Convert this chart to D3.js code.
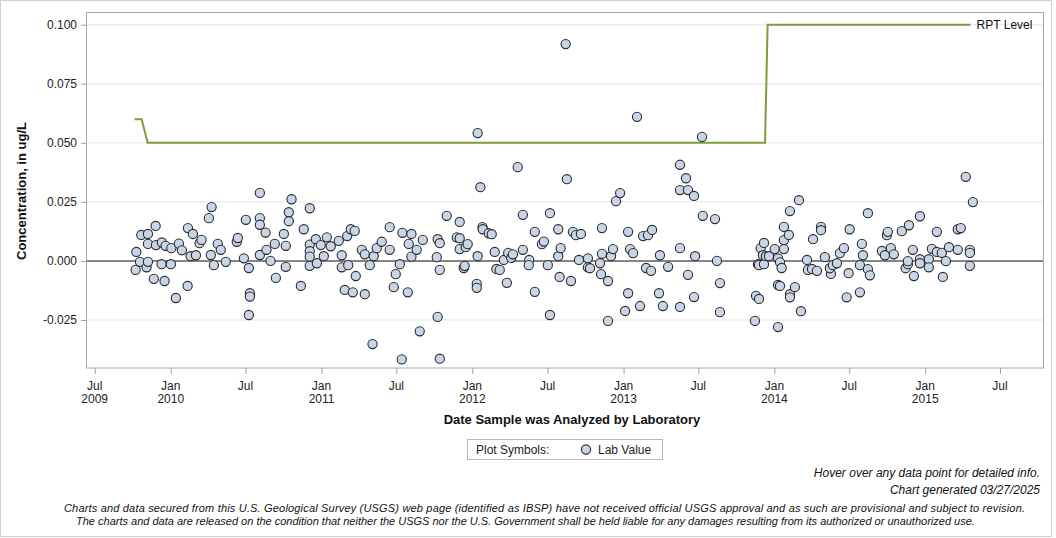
<!DOCTYPE html>
<html><head><meta charset="utf-8">
<script src="https://cdn.jsdelivr.net/npm/d3@7"></script>
<style>body{margin:0;background:#fff;} text{font-family:"Liberation Sans",Arial,sans-serif;}</style>
</head><body><svg id="c" width="1056" height="538"></svg>
<script>
// Sample dates as decimal years, and lab values (ug/L)
const sampleYears=[
2009.772,2009.767,2009.796,2009.805,2009.849,2009.849,2009.840,2009.849,2009.900,2009.902,
2009.888,2009.941,2009.939,2009.966,2009.959,2010.004,2010.001,2010.034,2010.054,2010.074,
2010.114,2010.147,2010.112,2010.132,2010.167,2010.191,2010.204,2010.253,2010.271,2010.266,
2010.286,2010.312,2010.332,2010.365,2010.438,2010.445,2010.498,2010.485,2010.518,2010.525,
2010.525,2010.518,2010.591,2010.591,2010.591,2010.629,2010.591,2010.635,2010.662,
2010.690,2010.697,2010.750,2010.763,2010.763,2010.801,2010.783,2010.783,2010.863,2010.882,
2010.922,2010.922,2010.922,2010.922,2010.922,2010.962,2010.969,2010.995,2011.015,2011.035,
2011.061,2011.114,2011.134,2011.134,2011.154,2011.170,2011.177,2011.194,2011.220,2011.207,
2011.227,2011.267,2011.287,2011.287,2011.320,2011.346,2011.366,2011.399,2011.338,2011.452,
2011.452,2011.479,2011.492,2011.519,2011.536,2011.572,2011.532,2011.578,2011.596,2011.596,
2011.631,
2011.671,2011.651,2011.784,2011.770,2011.770,2011.784,2011.764,2011.784,2011.830,2011.916,
2011.896,2011.916,2011.916,2011.956,2011.969,2011.943,2011.949,2012.029,2012.029,2012.035,
2012.035,2012.053,2012.067,2012.069,2012.108,2012.128,2012.148,2012.159,2012.181,2012.208,
2012.228,2012.237,2012.257,2012.268,2012.300,2012.334,2012.334,2012.376,2012.373,2012.413,
2012.413,2012.460,2012.473,2012.499,2012.513,2012.513,2012.568,2012.568,2012.577,2012.584,
2012.625,2012.617,2012.652,2012.665,2012.685,2012.718,2012.705,2012.764,2012.764,2012.778,
2012.857,2012.857,2012.844,2012.851,2012.897,2012.897,2012.917,2012.930,2012.950,2012.977,
2013.030,2013.030,2013.010,2013.043,2013.063,2013.089,2013.109,2013.129,2013.162,2013.189,
2013.149,2013.182,2013.235,2013.261,2013.241,2013.295,2013.374,2013.414,2013.374,2013.427,
2013.467,2013.374,2013.374,2013.427,2013.474,2013.467,2013.525,2013.520,
2013.606,2013.619,2013.639,2013.639,2013.871,2013.878,2013.898,2013.891,2013.898,2013.909,
2013.931,2013.924,2013.931,2013.944,2013.964,2014.002,2014.024,2014.024,2014.037,2014.024,
2014.037,2014.048,2014.063,2014.063,2014.063,2014.096,2014.103,2014.103,2014.103,2014.136,
2014.163,2014.176,2014.216,2014.222,2014.256,2014.249,2014.282,2014.309,2014.309,2014.335,
2014.375,2014.368,2014.388,2014.415,2014.434,2014.461,2014.499,2014.492,2014.479,
2014.567,2014.580,2014.587,2014.567,2014.620,2014.620,2014.633,2014.713,2014.733,2014.746,
2014.752,2014.772,2014.792,2014.845,2014.892,2014.870,2014.885,2014.885,2014.918,2014.925,
2014.965,2014.965,2014.965,2015.024,2015.024,2015.044,2015.077,2015.077,2015.110,2015.117,
2015.137,2015.157,2015.216,2015.236,2015.216,2015.269,2015.296,2015.296,2015.296,2015.316
];
const sampleValues=[
0.0038,-0.0038,-0.0004,0.0110,0.0114,0.0072,-0.0027,-0.0004,0.0148,0.0067,
-0.0076,0.0078,-0.0014,0.0064,-0.0085,0.0054,-0.0014,-0.0157,0.0073,0.0045,
0.0139,0.0114,-0.0106,0.0020,0.0024,0.0075,0.0089,0.0181,0.0228,0.0025,
-0.0018,0.0072,0.0047,-0.0004,0.0081,0.0097,0.0174,0.0011,-0.0030,-0.0137,
-0.0151,-0.0229,0.0288,0.0181,0.0153,0.0120,0.0025,0.0047,0.0000,
0.0072,-0.0072,0.0114,0.0064,-0.0025,0.0261,0.0206,0.0168,-0.0106,0.0134,
0.0223,0.0069,0.0041,0.0018,-0.0021,0.0092,-0.0010,0.0067,0.0020,0.0100,
0.0062,0.0085,0.0024,-0.0027,-0.0123,0.0105,-0.0018,0.0134,0.0127,-0.0133,
-0.0064,0.0047,0.0028,-0.0141,-0.0018,0.0020,0.0054,0.0081,-0.0352,0.0143,
0.0047,-0.0111,-0.0056,-0.0014,0.0119,-0.0133,-0.0417,0.0072,0.0114,0.0018,
0.0047,
0.0089,-0.0298,-0.0414,-0.0237,0.0092,0.0075,0.0016,-0.0038,0.0191,0.0165,
0.0100,0.0096,0.0050,0.0058,0.0071,-0.0030,-0.0021,-0.0097,-0.0114,0.0020,
0.0541,0.0312,0.0143,0.0134,0.0117,0.0113,0.0038,-0.0034,-0.0038,0.0004,
-0.0093,0.0034,0.0013,0.0028,0.0397,0.0195,0.0047,0.0004,-0.0018,0.0123,
-0.0131,0.0071,0.0082,-0.0018,0.0202,-0.0229,0.0134,0.0020,-0.0068,0.0054,
0.0346,0.0918,-0.0085,0.0123,0.0109,0.0114,0.0004,0.0011,-0.0027,-0.0031,
0.0139,0.0030,-0.0010,-0.0056,-0.0085,-0.0254,0.0020,0.0050,0.0253,0.0287,
0.0123,-0.0137,-0.0212,0.0050,0.0033,0.0610,-0.0191,0.0105,0.0109,0.0131,
-0.0030,-0.0042,-0.0137,-0.0191,0.0024,-0.0025,0.0407,0.0350,0.0300,0.0300,
0.0275,0.0054,-0.0195,-0.0059,0.0020,-0.0153,0.0191,0.0525,
0.0177,0.0000,-0.0094,-0.0217,-0.0254,-0.0148,-0.0161,-0.0014,-0.0018,0.0054,
0.0076,0.0024,-0.0014,0.0020,0.0020,0.0050,0.0011,-0.0102,-0.0106,-0.0280,
-0.0006,-0.0030,0.0144,0.0088,0.0050,0.0110,0.0211,-0.0141,-0.0154,-0.0111,
0.0257,-0.0213,0.0004,-0.0038,0.0092,-0.0034,-0.0042,0.0144,0.0130,0.0016,
-0.0055,-0.0031,-0.0018,-0.0010,0.0033,0.0054,0.0134,-0.0052,-0.0154,
-0.0018,0.0072,0.0024,-0.0133,0.0202,-0.0035,-0.0061,0.0042,0.0024,0.0109,
0.0123,0.0054,0.0028,0.0126,0.0151,-0.0031,-0.0014,-0.0001,0.0047,-0.0064,
0.0189,0.0007,-0.0010,0.0007,-0.0027,0.0051,0.0123,0.0038,0.0034,-0.0068,
-0.0001,0.0058,0.0134,0.0139,0.0047,0.0356,0.0047,0.0034,-0.0021,0.0249
];
// Reporting level line
const rptYears=[2009.760,2009.807,2009.847,2013.938,2013.955,2015.301];
const rptValues=[0.06,0.06,0.05,0.05,0.10,0.10];
// Axis ticks
const yTicks=[-0.025,0,0.025,0.05,0.075,0.1];
const yTickLabels=["-0.025","0.000","0.025","0.050","0.075","0.100"];
const xTickDates=["2009-07-01","2010-01-01","2010-07-01","2011-01-01","2011-07-01","2012-01-01","2012-07-01","2013-01-01","2013-07-01","2014-01-01","2014-07-01","2015-01-01","2015-07-01"];
const xTickLabels=[["Jul","2009"],["Jan","2010"],["Jul",""],["Jan","2011"],["Jul",""],["Jan","2012"],["Jul",""],["Jan","2013"],["Jul",""],["Jan","2014"],["Jul",""],["Jan","2015"],["Jul",""]];

function yearToDate(y){const yr=Math.floor(y);const s=Date.UTC(yr,0,1),e=Date.UTC(yr+1,0,1);return new Date(s+(y-yr)*(e-s));}
const parse=d3.utcParse("%Y-%m-%d");

const L=87,R=1043,T=12,B=368;
const x0=d3.scaleUtc().domain([parse("2009-07-01"),parse("2015-07-01")]).range([94.7,1000]);
const x=d3.scaleUtc().domain([x0.invert(L),x0.invert(R)]).range([L,R]);
const y=d3.scaleLinear().domain([-0.04534,0.10538]).range([B,T]);

const svg=d3.select("#c");
svg.append("rect").attr("x",0.5).attr("y",0.5).attr("width",1051).attr("height",536).attr("fill","#fff").attr("stroke","#cfcfcf");

// gridlines
svg.append("g").selectAll("line").data(yTicks.filter(v=>v!==0)).join("line")
 .attr("x1",L).attr("x2",R).attr("y1",d=>y(d)).attr("y2",d=>y(d))
 .attr("stroke","#ededed").attr("stroke-width",1.5);
svg.append("line").attr("x1",L).attr("x2",R).attr("y1",y(0)).attr("y2",y(0)).attr("stroke","#858585").attr("stroke-width",2);

// axes
const yAxis=d3.axisLeft(y).tickValues(yTicks).tickSize(6).tickPadding(4).tickFormat((d,i)=>yTickLabels[i]);
const gy=svg.append("g").attr("transform",`translate(${L},0)`).call(yAxis);
gy.select(".domain").remove();
gy.selectAll("line").attr("stroke","#a0a0a0");
gy.selectAll("text").attr("font-size",12).attr("fill","#222").attr("font-family","Liberation Sans, Arial, sans-serif");

const xAxis=d3.axisBottom(x).tickValues(xTickDates.map(parse)).tickSize(6).tickFormat("");
const gx=svg.append("g").attr("transform",`translate(0,${B})`).call(xAxis);
gx.select(".domain").remove();
gx.selectAll("line").attr("stroke","#a0a0a0");
const xl=svg.append("g").selectAll("text").data(xTickDates).join("text")
 .attr("x",d=>x(parse(d))).attr("y",389.5).attr("text-anchor","middle").attr("font-size",12).attr("fill","#222");
xl.each(function(d,i){const t=d3.select(this);
 t.append("tspan").attr("x",x(parse(d))).text(xTickLabels[i][0]);
 if(xTickLabels[i][1]) t.append("tspan").attr("x",x(parse(d))).attr("dy",13).text(xTickLabels[i][1]);});

// plot frame
svg.append("rect").attr("x",L-0.5).attr("y",T+0.5).attr("width",R-L+1).attr("height",B-T-0.5).attr("fill","none").attr("stroke","#a8a8a8");

// RPT line
const rpt=rptYears.map((d,i)=>({d:yearToDate(d),v:rptValues[i]}));
svg.append("path").datum(rpt).attr("fill","none").attr("stroke","#7d9c3d").attr("stroke-width",2)
 .attr("d",d3.line().x(p=>x(p.d)).y(p=>y(p.v)));
const last=rpt[rpt.length-1];
svg.append("text").attr("x",x(last.d)+6).attr("y",y(last.v)+4.5).attr("font-size",12).attr("fill","#111").text("RPT Level");

// points
const pts=sampleYears.map((d,i)=>({d:yearToDate(d),v:sampleValues[i]}));
svg.append("g").selectAll("circle").data(pts).join("circle")
 .attr("cx",p=>x(p.d)).attr("cy",p=>y(p.v)).attr("r",4.6)
 .attr("fill","#c8d5e6").attr("stroke","#2a2a2a").attr("stroke-width",1.1);

// titles
svg.append("text").attr("x",(L+R)/2+7).attr("y",424).attr("text-anchor","middle").attr("font-size",13).attr("font-weight","bold").attr("fill","#111").text("Date Sample was Analyzed by Laboratory");
svg.append("text").attr("transform","translate(26,191) rotate(-90)").attr("text-anchor","middle").attr("font-size",13).attr("font-weight","bold").attr("fill","#111").text("Concentration, in ug/L");

// legend
svg.append("rect").attr("x",467.5).attr("y",439.5).attr("width",195).attr("height",20).attr("fill","#fff").attr("stroke","#b8b8b8");
svg.append("text").attr("x",476).attr("y",454).attr("font-size",12).attr("fill","#222").text("Plot Symbols:");
svg.append("circle").attr("cx",586).attr("cy",449.5).attr("r",4.6).attr("fill","#c8d5e6").attr("stroke","#2a2a2a").attr("stroke-width",1.1);
svg.append("text").attr("x",598).attr("y",454).attr("font-size",12).attr("fill","#222").text("Lab Value");

// footer
svg.append("text").attr("x",1040).attr("y",477).attr("text-anchor","end").attr("font-size",12).attr("font-style","italic").attr("fill","#111").text("Hover over any data point for detailed info.");
svg.append("text").attr("x",1040).attr("y",494).attr("text-anchor","end").attr("font-size",12).attr("font-style","italic").attr("fill","#111").text("Chart generated 03/27/2025");
svg.append("text").attr("x",64).attr("y",512).attr("font-size",11).attr("font-style","italic").attr("fill","#111")
 .attr("textLength",961).attr("lengthAdjust","spacing")
 .text("Charts and data secured from this U.S. Geological Survey (USGS) web page (identified as IBSP) have not received official USGS approval and as such are provisional and subject to revision.");
svg.append("text").attr("x",76).attr("y",525).attr("font-size",11).attr("font-style","italic").attr("fill","#111").text("The charts and data are released on the condition that neither the USGS nor the U.S. Government shall be held liable for any damages resulting from its authorized or unauthorized use.");
</script></body></html>
